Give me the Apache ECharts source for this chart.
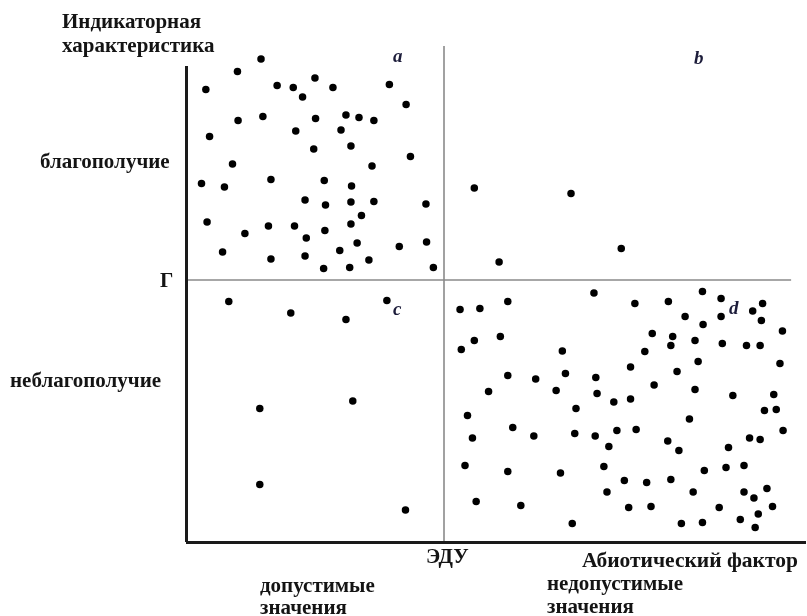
<!DOCTYPE html>
<html>
<head>
<meta charset="utf-8">
<script src="https://cdn.jsdelivr.net/npm/echarts@6/dist/echarts.min.js"></script>
<style>
  html, body { margin: 0; padding: 0; background: #fff; }
  #chart { width: 807px; height: 616px; }
</style>
</head>
<body>
<div id="chart"></div>
<script>
// Threshold values (abiotic factor: ЭДУ; indicator: Г), axis ranges in arbitrary units
const X_MAX = 100;
const Y_MAX = 100;
const EDU = 41.6;      // ЭДУ — ecologically permissible level
const G = 52.4;        // Г — boundary of wellbeing
const Y_AXIS_TOP = 95.2;
const EDU_TOP = 99.2;
const G_RIGHT = 97.6;

// Quadrant a: permissible values, wellbeing
const pointsA = [
  [12.1,96.6],[8.3,94.1],[3.2,90.5],[14.7,91.3],[17.3,90.9],[20.8,92.8],[23.7,90.9],[32.8,91.5],
  [18.8,89.0],[35.5,87.5],[8.4,84.3],[12.4,85.1],[20.9,84.7],[25.8,85.4],[27.9,84.9],[30.3,84.3],
  [3.8,81.1],[17.7,82.2],[25.0,82.4],[20.6,78.6],[26.6,79.2],[36.2,77.1],[7.5,75.6],[30.0,75.2],
  [2.5,71.7],[6.2,71.0],[13.7,72.5],[22.3,72.3],[26.7,71.2],[19.2,68.4],[22.5,67.4],[26.6,68.0],
  [30.3,68.1],[38.7,67.6],[3.4,64.0],[9.5,61.7],[13.3,63.2],[17.5,63.2],[22.4,62.3],[26.6,63.6],
  [28.3,65.3],[19.4,60.8],[27.6,59.8],[34.4,59.1],[38.8,60.0],[5.9,58.0],[13.7,56.6],[19.2,57.2],
  [24.8,58.3],[29.5,56.4],[22.2,54.7],[26.4,54.9],[39.9,54.9]
];
// Quadrant b: impermissible values, wellbeing
const pointsB = [[46.5,70.8],[62.1,69.7],[50.5,56.0],[70.2,58.7]];
// Quadrant c: permissible values, ill-being
const pointsC = [
  [6.9,48.1],[16.9,45.8],[25.8,44.5],[32.4,48.3],[11.9,26.7],[26.9,28.2],[11.9,11.5],[35.4,6.4]
];
// Quadrant d: impermissible values, ill-being
const pointsD = [
  [65.8,49.8],[83.3,50.1],[86.3,48.7],[44.2,46.5],[47.4,46.7],[51.9,48.1],[72.4,47.7],[77.8,48.1],
  [93.0,47.7],[91.4,46.2],[80.5,45.1],[86.3,45.1],[92.8,44.3],[83.4,43.5],[75.2,41.7],[78.5,41.1],
  [96.2,42.2],[46.5,40.3],[50.7,41.1],[44.4,38.5],[60.7,38.2],[74.0,38.1],[78.2,39.3],[82.1,40.3],
  [86.5,39.7],[90.4,39.3],[92.6,39.3],[71.7,35.0],[82.6,36.1],[95.8,35.7],[79.2,34.1],[51.9,33.3],
  [56.4,32.6],[61.2,33.7],[66.1,32.9],[75.5,31.4],[48.8,30.1],[59.7,30.3],[66.3,29.7],[69.0,28.0],
  [71.7,28.6],[82.1,30.5],[88.2,29.3],[94.8,29.5],[45.4,25.3],[62.9,26.7],[81.2,24.6],[93.3,26.3],
  [95.2,26.5],[46.2,20.8],[52.7,22.9],[56.1,21.2],[62.7,21.7],[66.0,21.2],[69.5,22.3],[72.6,22.5],
  [68.2,19.1],[77.7,20.2],[79.5,18.3],[87.5,18.9],[90.9,20.8],[92.6,20.5],[96.3,22.3],[45.0,15.3],
  [51.9,14.1],[60.4,13.8],[67.4,15.1],[70.7,12.3],[74.3,11.9],[78.2,12.5],[83.6,14.3],[87.1,14.9],
  [90.0,15.3],[46.8,8.1],[54.0,7.3],[67.9,10.0],[71.4,6.9],[75.0,7.1],[81.8,10.0],[86.0,6.9],
  [90.0,10.0],[91.6,8.8],[93.7,10.7],[94.6,7.1],[92.3,5.6],[62.3,3.7],[79.9,3.7],[83.3,3.9],
  [89.4,4.5],[91.8,2.9]
];

// Text labels
const yAxisTitle = ['Индикаторная', 'характеристика'];
const zoneGood = 'благополучие';
const zoneBad = 'неблагополучие';
const gLabel = 'Г';
const eduLabel = 'ЭДУ';
const xAxisTitle = 'Абиотический фактор';
const permissible = ['допустимые', 'значения'];
const impermissible = ['недопустимые', 'значения'];
const quadrantLetters = ['a', 'b', 'c', 'd'];

const FONT = '"Liberation Serif", "DejaVu Serif", serif';
const TXT = '#141414';

function text(str, x, y, size) {
  return {
    type: 'text', left: x, top: y,
    style: { text: str, font: 'bold ' + (size || 21) + 'px ' + FONT, fill: TXT }
  };
}
function letter(str, x, y) {
  return { type: 'text', left: x, top: y, style: { text: str, font: 'italic bold 19px ' + FONT, fill: '#1c1c3a' } };
}

const chart = echarts.init(document.getElementById('chart'));
const dotStyle = { color: '#000', opacity: 1 };
const scatter = (name, data) => ({
  type: 'scatter', name, data, symbolSize: 7.5, itemStyle: dotStyle, silent: true, z: 5
});

const dSeries = scatter('d', pointsD);
dSeries.markLine = {
  silent: true, symbol: 'none', label: { show: false }, animation: false,
  data: [
    [{ coord: [EDU, 0], lineStyle: { color: '#8a8a8a', width: 1.6, type: 'solid' } }, { coord: [EDU, EDU_TOP] }],
    [{ coord: [0, G], lineStyle: { color: '#8a8a8a', width: 1.6, type: 'solid' } }, { coord: [G_RIGHT, G] }],
    [{ coord: [0, 0], lineStyle: { color: '#1a1a1a', width: 3, type: 'solid' } }, { coord: [0, Y_AXIS_TOP] }],
    [{ coord: [0, 0], lineStyle: { color: '#1a1a1a', width: 3, type: 'solid' } }, { coord: [X_MAX, 0] }]
  ]
};

chart.setOption({
  backgroundColor: '#fff',
  animation: false,
  grid: { left: 186, right: 1, top: 42, bottom: 74 },
  xAxis: { type: 'value', min: 0, max: X_MAX, show: false },
  yAxis: { type: 'value', min: 0, max: Y_MAX, show: false },
  series: [scatter('a', pointsA), scatter('b', pointsB), scatter('c', pointsC), dSeries],
  graphic: [
    text(yAxisTitle[0], 62, 12),
    text(yAxisTitle[1], 62, 36),
    text(zoneGood, 40, 152),
    text(gLabel, 160, 271),
    text(zoneBad, 10, 371),
    text(eduLabel, 426, 547),
    text(xAxisTitle, 582, 550, 21.5),
    text(impermissible[0], 547, 574),
    text(impermissible[1], 547, 597),
    text(permissible[0], 260, 576),
    text(permissible[1], 260, 598),
    letter(quadrantLetters[0], 393, 48),
    letter(quadrantLetters[1], 694, 50),
    letter(quadrantLetters[2], 393, 301),
    letter(quadrantLetters[3], 729, 300)
  ]
});
</script>
</body>
</html>
